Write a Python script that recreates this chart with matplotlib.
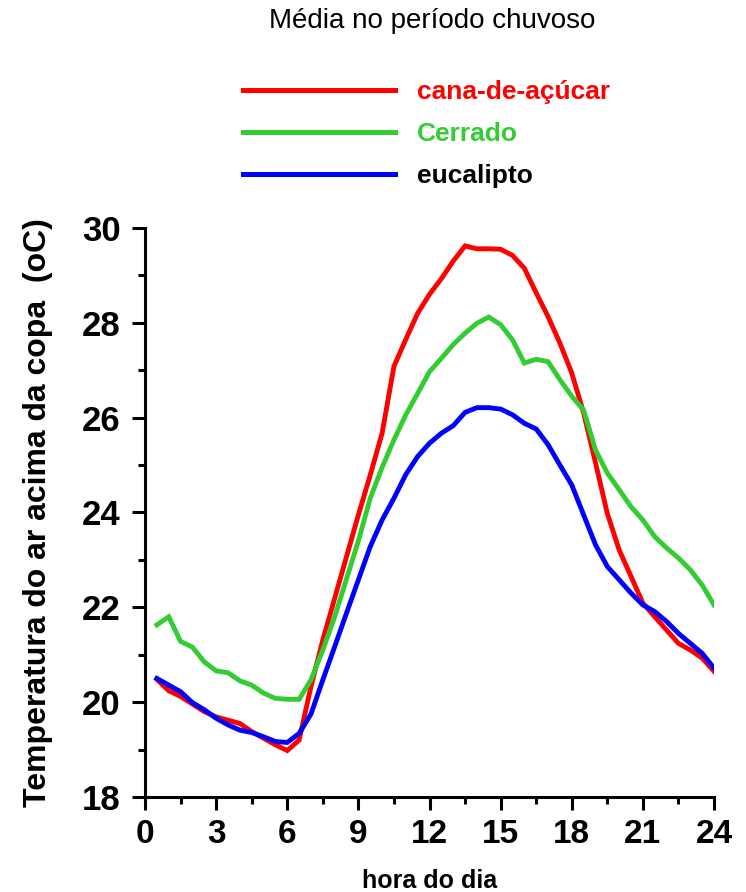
import matplotlib
matplotlib.use('Agg')
import matplotlib.pyplot as plt
import numpy as np
from matplotlib.ticker import MultipleLocator

plt.rcParams['font.family'] = ['Liberation Sans', 'DejaVu Sans']

# ---- data ----
hora = np.arange(0.5, 24.01, 0.5)

cana = [20.48, 20.24, 20.12, 19.96, 19.80, 19.69, 19.62, 19.55, 19.38, 19.24,
        19.10, 18.98, 19.20, 20.33, 21.31, 22.19, 23.07, 23.95, 24.79, 25.67,
        27.08, 27.65, 28.20, 28.60, 28.93, 29.30, 29.62, 29.56, 29.56, 29.55,
        29.42, 29.15, 28.63, 28.13, 27.57, 26.94, 26.10, 25.05, 23.98, 23.21,
        22.65, 22.09, 21.80, 21.52, 21.24, 21.10, 20.93, 20.65]

cerrado = [21.63, 21.80, 21.28, 21.16, 20.85, 20.66, 20.62, 20.45, 20.36, 20.19,
           20.08, 20.06, 20.06, 20.47, 21.10, 21.80, 22.60, 23.40, 24.30, 24.95,
           25.53, 26.06, 26.51, 26.97, 27.25, 27.54, 27.78, 27.99, 28.12, 27.96,
           27.64, 27.15, 27.23, 27.18, 26.80, 26.45, 26.16, 25.32, 24.83, 24.48,
           24.12, 23.84, 23.49, 23.25, 23.04, 22.79, 22.47, 22.05]

eucalipto = [20.50, 20.36, 20.22, 19.99, 19.84, 19.66, 19.52, 19.41, 19.36, 19.27,
             19.17, 19.15, 19.34, 19.75, 20.47, 21.17, 21.88, 22.58, 23.28, 23.84,
             24.30, 24.80, 25.18, 25.46, 25.67, 25.83, 26.11, 26.21, 26.21, 26.18,
             26.06, 25.88, 25.76, 25.43, 25.00, 24.58, 23.95, 23.32, 22.86, 22.58,
             22.30, 22.05, 21.91, 21.70, 21.45, 21.24, 21.03, 20.72]

series = ['cana-de-açúcar', 'Cerrado', 'eucalipto']
cores = ['#ff0000', '#33cc33', '#0000ff']
cores_texto = ['#ff0000', '#33cc33', '#000000']

fig = plt.figure(figsize=(7.46, 8.92), dpi=100)
ax = fig.add_axes([0.1944, 0.1065, 0.7627, 0.638])

for vals, nome, c in zip([cana, cerrado, eucalipto], series, cores):
    ax.plot(hora, vals, color=c, lw=3.5, label=nome, solid_joinstyle='miter')

ax.set_xlim(0, 24)
ax.set_ylim(18, 30)
ax.xaxis.set_major_locator(MultipleLocator(3))
ax.xaxis.set_minor_locator(MultipleLocator(1.5))
ax.yaxis.set_major_locator(MultipleLocator(2))
ax.yaxis.set_minor_locator(MultipleLocator(1))

for s in ['top', 'right']:
    ax.spines[s].set_visible(False)
for s in ['left', 'bottom']:
    ax.spines[s].set_linewidth(2.2)

ax.tick_params(which='major', length=9.5, width=2.2, direction='out')
ax.tick_params(which='minor', length=5, width=2.2, direction='out')
ax.tick_params(axis='x', which='major', pad=6, labelsize=24)
ax.tick_params(axis='y', which='major', pad=8, labelsize=25)
for lab in ax.get_xticklabels() + ax.get_yticklabels():
    lab.set_fontweight('bold')

ax.set_xlabel('hora do dia', fontsize=18, fontweight='bold', labelpad=14)
ax.set_ylabel('Temperatura do ar acima da copa  (oC)', fontsize=23,
              fontweight='bold', labelpad=21)

fig.text(0.58, 0.977, 'Média no período chuvoso', fontsize=20, ha='center', va='center')

leg = ax.legend(loc='upper left', bbox_to_anchor=(0.326, 0.910),
                bbox_transform=fig.transFigure, frameon=False,
                fontsize=19, handlelength=5.75, handletextpad=0.85,
                labelspacing=0.68, borderaxespad=0, borderpad=0)
for txt, c in zip(leg.get_texts(), cores_texto):
    txt.set_color(c)
    txt.set_fontweight('bold')
for h in leg.legend_handles:
    h.set_linewidth(3.6)

fig.savefig('out.png', dpi=100, facecolor='white')
